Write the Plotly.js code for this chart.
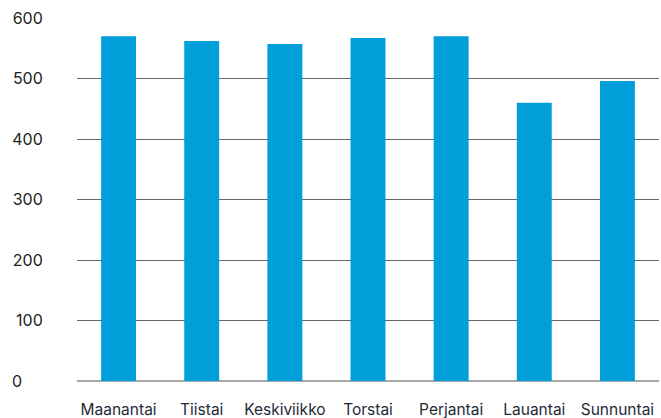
<!DOCTYPE html>
<html>
<head>
<meta charset="utf-8">
<script src="https://cdn.plot.ly/plotly-3.0.1.min.js"></script>
<style>html,body{margin:0;padding:0;background:#fff;}#chart{width:661px;height:418px;}</style>
</head>
<body>
<div id="chart"></div>
<script>
const days = ["Maanantai", "Tiistai", "Keskiviikko", "Torstai", "Perjantai", "Lauantai", "Sunnuntai"];
const values = [570, 562, 557, 567, 570, 460, 496];
const yTickVals = [0, 100, 200, 300, 400, 500, 600];
const yTickText = ["0\u2007\u2007", "100", "200", "300", "400", "500", "600"];

const trace = {
  type: "bar",
  x: days,
  y: values,
  marker: {color: "#009fda"},
  width: 0.42,
  hoverinfo: "x+y"
};

const layout = {
  width: 661,
  height: 418,
  margin: {l: 77, r: 2, t: 18, b: 37, pad: 0},
  paper_bgcolor: "#ffffff",
  plot_bgcolor: "#ffffff",
  showlegend: false,
  font: {family: "Inter, 'DejaVu Sans', sans-serif", size: 16, color: "#1e2b38"},
  xaxis: {
    type: "category",
    showgrid: false,
    showline: false,
    zeroline: false,
    ticks: "outside",
    ticklen: 14,
    tickcolor: "rgba(0,0,0,0)",
    tickfont: {size: 15.5, color: "#1e2b38"}
  },
  yaxis: {
    range: [0, 600],
    tickvals: yTickVals,
    ticktext: yTickText,
    showgrid: true,
    gridcolor: "#666666",
    gridwidth: 1,
    zeroline: true,
    zerolinecolor: "#a8a8a8",
    zerolinewidth: 2,
    showline: false,
    ticks: "outside",
    ticklen: 30,
    tickcolor: "rgba(0,0,0,0)",
    tickfont: {size: 16, color: "#222222"}
  },
  bargap: 0.58
};

Plotly.newPlot("chart", [trace], layout, {staticPlot: true, displayModeBar: false});
</script>
</body>
</html>
